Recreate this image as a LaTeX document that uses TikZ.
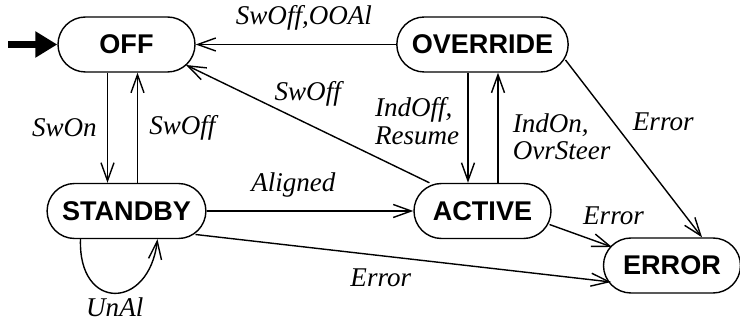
\documentclass[tikz,border=0pt]{standalone}
\usepackage{fontspec}
\setmainfont{Liberation Serif}
\setsansfont{Liberation Sans}
\usetikzlibrary{arrows.meta}

\begin{document}
\begin{tikzpicture}[>={Straight Barb[length=3.6mm,width=2.6mm]}, line width=0.8pt,
        state/.style={draw, rectangle, rounded corners=0.55cm, minimum width=2.74cm, minimum height=1.1cm,
            inner xsep=0.3cm, font=\sffamily\bfseries\fontsize{15.4}{16}\selectfont},
        lbl/.style={inner sep=1pt, font=\itshape\fontsize{15.4}{15.5}\selectfont}]
        \useasboundingbox (0, 0) rectangle (14.8, 6.44);

        \node[state] (off) at (2.53, 5.55) {OFF};
        \node[state] (ovr) at (9.65, 5.55) {OVERRIDE};
        \node[state] (sb) at (2.53, 2.22) {STANDBY};
        \node[state] (act) at (9.65, 2.22) {ACTIVE};
        \node[state] (err) at (13.44, 1.13) {ERROR};
        \coordinate (init) at (0.16, 5.55);

        % initial state
        \draw[line width=4pt, -{Triangle[length=4.4mm,width=5mm]}] (init) -- (off);

        \draw[->] (ovr) -- node[lbl, above=6.7pt, pos=0.46] {SwOff,OOAl} (off);
        \draw[->] ([xshift=-0.38cm]off.south) -- node[lbl, left=4.7pt] {SwOn} ([xshift=-0.38cm]sb.north);
        \draw[->] ([xshift=0.22cm]sb.north) -- node[lbl, right=5.3pt] {SwOff} ([xshift=0.22cm]off.south);
        \draw[->] ([xshift=-0.29cm]ovr.south) -- node[lbl, left=3.6pt, pos=0.44, align=left] {IndOff,\\Resume} ([xshift=-0.29cm]act.north);
        \draw[->] ([xshift=0.31cm]act.north) -- node[lbl, right=7pt, pos=0.42, align=left] {IndOn,\\OvrSteer} ([xshift=0.31cm]ovr.south);
        \draw[->] (sb) -- node[lbl, above=6.5pt, pos=0.42] {Aligned} (act);
        \draw[->] (act.152) -- node[lbl, above=8.5pt] {SwOff} ([shift={(1.19,-0.41)}]off.center);

        % transitions into ERROR
        \draw[->] ([shift={(1.66,-0.31)}]ovr.center) -- node[lbl, right=9.8pt, pos=0.35] {Error} ([xshift=0.6cm]err.north);
        \draw[->] ([shift={(1.34,-0.27)}]act.center) -- node[lbl, anchor=south west, yshift=5pt] {Error} ([shift={(-1.2,0.37)}]err.center);
        \draw[->] ([shift={(1.38,-0.47)}]sb.center) -- node[lbl, below=6.2pt, pos=0.446] {Error} ([shift={(-1.22,-0.33)}]err.center);

        % self loop
        \draw[->] ([xshift=-0.92cm]sb.south) to[out=-92, in=-97, looseness=2.4] node[lbl, below=1.5pt] {UnAl} ([xshift=0.62cm]sb.south);
    \end{tikzpicture}
\end{document}
